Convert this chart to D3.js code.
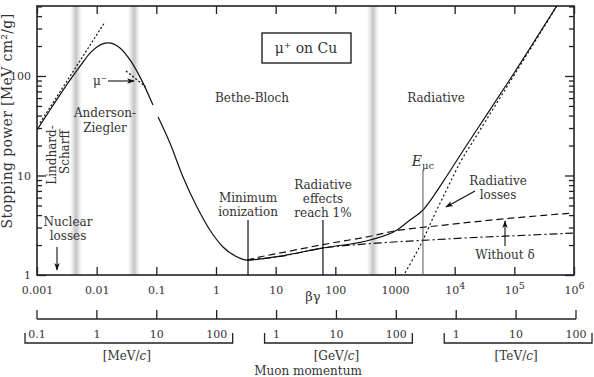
<!DOCTYPE html>
<html>
<head>
<meta charset="utf-8">
<script src="https://cdn.jsdelivr.net/npm/d3@7"></script>
<style>
  body { margin: 0; background: #fff; }
  svg { display: block; font-family: 'DejaVu Serif', serif; }
  .lbl { fill: #333; font-size: 12px; }
  .tick text { fill: #333; font-size: 11px; font-family: 'DejaVu Serif', serif; }
  .curve { fill: none; stroke: #111; stroke-width: 1.2; }
</style>
</head>
<body>
<svg id="chart" width="594" height="377"></svg>
<script>
// βγ axis and stopping-power axis
const bgTicks = [1e-3, 1e-2, 1e-1, 1, 10, 100, 1000, 1e4, 1e5, 1e6];
const bgLabels = ['0.001', '0.01', '0.1', '1', '10', '100', '1000', '10^4', '10^5', '10^6'];
const spMajor = [1, 10, 100];
const spMinor = [2, 3, 4, 5, 6, 7, 8, 9, 20, 30, 40, 50, 60, 70, 80, 90, 200, 300, 400, 500];

// muon momentum axis (GeV/c)
const pTicks = [1e-4, 1e-3, 1e-2, 1e-1, 1, 10, 100, 1e3, 1e4, 1e5];
const pLabels = ['0.1', '1', '10', '100', '1', '10', '100', '1', '10', '100'];
const pGroups = [
  { unit: 'MeV', from: 0, to: 3 },
  { unit: 'GeV', from: 4, to: 6 },
  { unit: 'TeV', from: 7, to: 9 }
];

// curves, [βγ, MeV cm2/g]
const totalLow = [[0.001, 28.7], [0.00165, 45.5], [0.00357, 91], [0.0055, 130], [0.00773, 170],
  [0.0101, 196], [0.0155, 215], [0.0246, 191], [0.0362, 145], [0.0532, 98], [0.0879, 51]];
const totalHigh = [[0.107, 38.7], [0.169, 21.2], [0.28, 9.66], [0.48, 4.82], [0.79, 2.83],
  [1.31, 1.91], [2.25, 1.52], [3.3, 1.41], [5.5, 1.45], [10.5, 1.53], [62, 1.87], [381, 2.25],
  [1079, 2.83], [1782, 3.57], [2944, 4.5], [4330, 6.1], [7430, 9.95], [12270, 15.9],
  [23650, 29], [94900, 103], [519000, 512]];
const withoutDelta = [[3.3, 1.41], [5.5, 1.52], [10.5, 1.64], [62, 2.02], [381, 2.45],
  [1079, 2.8], [3436, 3.04], [13770, 3.33], [64600, 3.66], [352000, 4.0], [960000, 4.2]];
const withDelta = [[3.3, 1.41], [10.5, 1.52], [62, 1.86], [560, 2.1], [3855, 2.25],
  [13770, 2.35], [183000, 2.52], [960000, 2.64]];
const radiative = [[1470, 1.05], [2944, 2.25], [4330, 3.74], [7430, 7.32], [12270, 13.4],
  [23650, 25.5], [94900, 97.7], [519000, 505]];
const lindhard = [[0.00112, 33.7], [0.0138, 349]];
const muMinus = [[0.031, 112], [0.066, 78]];

const bands = [0.0045, 0.0423, 428];
const minIon = 3.44, rad1pc = 62, emuc = 2944;

const svg = d3.select('#chart');
const frame = { left: 37, right: 574, top: 6, bottom: 275 };

const x = d3.scaleLog().domain([1e-3, 1e6]).range([frame.left, frame.right]);
const y = d3.scaleLog().domain([1, 505]).range([frame.bottom, frame.top]);
const xp = d3.scaleLog().domain([1e-4, 1e5]).range([37, 576]);

// grey region separators
const defs = svg.append('defs');
const grad = defs.append('linearGradient').attr('id', 'band');
grad.append('stop').attr('offset', '0%').attr('stop-color', '#d0d0d0').attr('stop-opacity', 0);
grad.append('stop').attr('offset', '50%').attr('stop-color', '#c4c4c4').attr('stop-opacity', 1);
grad.append('stop').attr('offset', '100%').attr('stop-color', '#d0d0d0').attr('stop-opacity', 0);
defs.append('clipPath').attr('id', 'plot')
  .append('rect').attr('x', frame.left).attr('y', frame.top)
  .attr('width', frame.right - frame.left).attr('height', frame.bottom - frame.top);
defs.append('marker').attr('id', 'ah').attr('viewBox', '0 0 10 10').attr('refX', 9).attr('refY', 5)
  .attr('markerWidth', 7).attr('markerHeight', 7).attr('orient', 'auto')
  .append('path').attr('d', 'M0,1.5L10,5L0,8.5L2.5,5Z').attr('fill', '#111');

svg.selectAll('.band').data(bands).enter().append('rect')
  .attr('x', d => x(d) - 6).attr('y', frame.top).attr('width', 12).attr('height', frame.bottom - frame.top)
  .attr('fill', 'url(#band)');

// axes
const bottomAxis = d3.axisBottom(x).tickValues(bgTicks).tickSizeInner(-8).tickSizeOuter(0).tickPadding(11)
  .tickFormat((d, i) => bgLabels[i]);
const gB = svg.append('g').attr('transform', `translate(0,${frame.bottom})`).call(bottomAxis);
gB.selectAll('.tick text').each(function(d, i) {
  const lab = bgLabels[i];
  if (lab.includes('^')) {
    const [b, e] = lab.split('^');
    const t = d3.select(this).text(null);
    t.append('tspan').text(b);
    t.append('tspan').attr('dy', '-0.5em').style('font-size', '9.5px').text(e);
  }
});
svg.append('g').attr('transform', `translate(0,${frame.top})`)
  .call(d3.axisTop(x).tickValues(bgTicks).tickSizeInner(-8).tickSizeOuter(0).tickFormat(''));

const leftAxis = d3.axisLeft(y).tickValues(spMajor.concat(spMinor)).tickSizeInner(-5).tickSizeOuter(0)
  .tickPadding(6).tickFormat(d => spMajor.includes(d) ? d : '');
const gL = svg.append('g').attr('transform', `translate(${frame.left},0)`).call(leftAxis);
gL.selectAll('.tick line').attr('x2', d => spMajor.includes(d) ? 9 : 5);
const gR = svg.append('g').attr('transform', `translate(${frame.right},0)`)
  .call(d3.axisRight(y).tickValues(spMajor.concat(spMinor)).tickSizeInner(-5).tickSizeOuter(0).tickFormat(''));
gR.selectAll('.tick line').attr('x2', d => spMajor.includes(d) ? -9 : -5);
svg.selectAll('.domain').remove();
svg.selectAll('.tick line').attr('stroke', '#222').attr('stroke-width', 1.3);

svg.append('rect').attr('x', frame.left).attr('y', frame.top)
  .attr('width', frame.right - frame.left).attr('height', frame.bottom - frame.top)
  .attr('fill', 'none').attr('stroke', '#222').attr('stroke-width', 1.6);

// curves
const line = d3.line().x(d => x(d[0])).y(d => y(d[1])).curve(d3.curveMonotoneX);
const plot = svg.append('g').attr('clip-path', 'url(#plot)');
function draw(data, dash) {
  plot.append('path').datum(data).attr('class', 'curve').attr('d', line)
    .attr('stroke-dasharray', dash || null);
}
draw(withDelta, '8,3,2,3');
draw(withoutDelta, '7,4');
draw(radiative, '2,2.5');
draw(lindhard, '2,2');
draw(muMinus, '2,2');
draw(totalLow);
draw(totalHigh);

// marker lines
function vline(v, y1, w, c) {
  svg.append('line').attr('x1', x(v)).attr('x2', x(v)).attr('y1', y1).attr('y2', frame.bottom)
    .attr('stroke', c || '#111').attr('stroke-width', w || 1.2);
}
vline(minIon, 220);
vline(rad1pc, 220);
vline(emuc, 170, 1, '#555');

// labels
function label(txt, px, py, opts = {}) {
  const t = svg.append('text').attr('class', 'lbl').attr('x', px).attr('y', py)
    .attr('text-anchor', opts.anchor || 'middle').text(txt);
  if (opts.size) t.style('font-size', opts.size);
  if (opts.rotate) t.attr('transform', `rotate(-90,${px},${py})`);
  return t;
}
label('Bethe-Bloch', 252, 102);
label('Radiative', 436, 102);
label('Anderson-', 105, 117);
label('Ziegler', 105, 132);
label('Minimum', 248, 202);
label('ionization', 248, 216);
label('Radiative', 323, 189);
label('effects', 323, 203);
label('reach 1%', 323, 217);
label('Radiative', 498, 185);
label('losses', 498, 199);
label('Without δ', 505, 259);
label('Nuclear', 68, 226);
label('losses', 68, 240);
label('Lindhard-', 56, 155, { rotate: true });
label('Scharff', 69, 152, { rotate: true });
label('μ⁻', 100, 85);

const emt = label('', 423, 166, { size: '14px' });
emt.append('tspan').attr('font-style', 'italic').text('E');
emt.append('tspan').style('font-size', '10px').attr('dy', 3).text('μc');

svg.append('rect').attr('x', 262).attr('y', 33).attr('width', 89).attr('height', 30)
  .attr('fill', '#fff').attr('stroke', '#222').attr('stroke-width', 1.4);
label('μ⁺ on Cu', 306, 53, { size: '14px' }).attr('fill', '#222');

// arrows
function arrow(x1, y1, x2, y2) {
  svg.append('line').attr('x1', x1).attr('y1', y1).attr('x2', x2).attr('y2', y2)
    .attr('stroke', '#111').attr('stroke-width', 1.1).attr('marker-end', 'url(#ah)');
}
arrow(108, 81, 134, 81);
arrow(57, 247, 57, 270);
arrow(475, 191, 446, 207);
arrow(505, 246, 505, 221);

// titles
label('βγ', 313, 301, { size: '13px' });
label('Stopping power [MeV cm²/g]', 12, 121, { size: '14px' }).attr('letter-spacing', 0.35)
  .attr('transform', 'rotate(-90,12,121)');

// momentum axis
const pY = 319;
svg.append('line').attr('x1', xp(pTicks[0])).attr('x2', xp(pTicks[pTicks.length - 1]))
  .attr('y1', pY).attr('y2', pY).attr('stroke', '#222').attr('stroke-width', 1.3);
svg.selectAll('.ptick').data(pTicks).enter().append('line')
  .attr('x1', d => xp(d)).attr('x2', d => xp(d)).attr('y1', pY).attr('y2', pY - 9)
  .attr('stroke', '#222').attr('stroke-width', 1.3);
svg.selectAll('.plab').data(pTicks).enter().append('text')
  .attr('class', 'lbl').style('font-size', '11px').attr('text-anchor', 'middle')
  .attr('x', d => xp(d)).attr('y', 338).text((d, i) => pLabels[i]);

const bY = 343;
pGroups.forEach(g => {
  const x1 = xp(pTicks[g.from]) - 12, x2 = xp(pTicks[g.to]) + 16;
  svg.append('path').attr('d', `M${x1},${bY - 10}V${bY}H${x2}V${bY - 10}`)
    .attr('fill', 'none').attr('stroke', '#222').attr('stroke-width', 1.3);
  const t = label('', (xp(pTicks[g.from]) + xp(pTicks[g.to])) / 2, 360);
  t.append('tspan').text(`[${g.unit}/`);
  t.append('tspan').attr('font-style', 'italic').text('c');
  t.append('tspan').text(']');
});
label('Muon momentum', 308, 375, { size: '12px' });
</script>
</body>
</html>
